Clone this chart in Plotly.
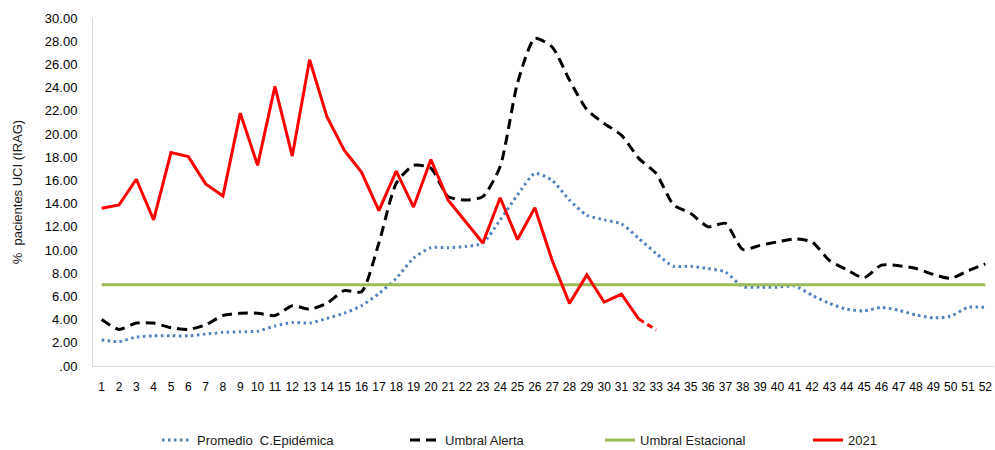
import plotly.graph_objects as go

weeks = list(range(1, 53))

promedio = [2.25, 2.1, 2.5, 2.6, 2.6, 2.6, 2.75, 2.9, 2.95, 3.0,
            3.45, 3.75, 3.7, 4.1, 4.55, 5.2, 6.25, 7.55, 9.3, 10.2,
            10.2, 10.3, 10.6, 12.6, 14.75, 16.6, 16.0, 14.3, 13.0, 12.6,
            12.25, 11.0, 9.7, 8.6, 8.6, 8.4, 8.1, 6.85, 6.8, 6.8,
            6.9, 6.1, 5.4, 4.9, 4.75, 5.05, 4.8, 4.4, 4.15, 4.3,
            5.05, 5.05]

alerta = [4.0, 3.15, 3.7, 3.7, 3.3, 3.15, 3.55, 4.35, 4.55, 4.55,
          4.35, 5.2, 4.9, 5.4, 6.5, 6.4, 10.6, 15.75, 17.3, 17.05,
          14.6, 14.3, 14.6, 17.2, 24.4, 28.25, 27.5, 24.65, 22.1, 20.9,
          19.9, 17.9, 16.6, 13.9, 13.15, 12.0, 12.3, 10.05, 10.4, 10.7,
          10.95, 10.7, 9.1, 8.3, 7.6, 8.7, 8.65, 8.4, 7.9, 7.55,
          8.2, 8.8]

estacional = [7.0] * 52

weeks_2021 = list(range(1, 34))
y2021 = [13.6, 13.88, 16.1, 12.6, 18.4, 18.05, 15.7, 14.65, 21.8, 17.3,
         24.1, 18.1, 26.4, 21.5, 18.6, 16.7, 13.4, 16.8, 13.7, 17.8,
         14.3, 12.4, 10.6, 14.5, 10.9, 13.65, 9.1, 5.4, 7.85, 5.5,
         6.2, 4.05, 3.1]

y_ticks = [0, 2, 4, 6, 8, 10, 12, 14, 16, 18, 20, 22, 24, 26, 28, 30]
y_labels = [".00"] + [f"{v:.2f}" for v in y_ticks[1:]]

FONT = "Liberation Sans"
TXT = "#1a1a1a"

fig = go.Figure()
fig.add_trace(go.Scatter(
    x=weeks, y=promedio, mode="lines", name="Promedio  C.Epidémica",
    line={"color": "#4F81BD", "width": 3, "dash": "2.5px,3.5px", "shape": "spline", "smoothing": 0.6},
    legend="legend",
))
fig.add_trace(go.Scatter(
    x=weeks, y=alerta, mode="lines", name="Umbral Alerta",
    line={"color": "#000000", "width": 3, "dash": "10px,6px", "shape": "spline", "smoothing": 0.6},
    legend="legend2",
))
fig.add_trace(go.Scatter(
    x=weeks, y=estacional, mode="lines", name="Umbral Estacional",
    line={"color": "#9BBB59", "width": 3},
    legend="legend3",
))
fig.add_trace(go.Scatter(
    x=weeks_2021[:-1], y=y2021[:-1], mode="lines", name="2021",
    line={"color": "#FF0000", "width": 3},
    legend="legend4",
))
# last (provisional) week drawn dashed
fig.add_trace(go.Scatter(
    x=weeks_2021[-2:], y=y2021[-2:], mode="lines", showlegend=False,
    line={"color": "#FF0000", "width": 3, "dash": "6px,4px"},
))

# legends sit in container coords so they don't push the margins
leg = {"orientation": "h", "yref": "container", "yanchor": "middle", "y": 0.022,
       "xanchor": "left",
       "font": {"family": FONT, "size": 13, "color": TXT},
       "bgcolor": "rgba(0,0,0,0)", "itemwidth": 30}

fig.update_layout(
    width=995, height=450,
    margin={"l": 93, "r": 1, "t": 18, "b": 84},
    paper_bgcolor="white", plot_bgcolor="white",
    font={"family": FONT, "size": 12, "color": TXT},
    legend={**leg, "x": 0.0710},
    legend2={**leg, "x": 0.3463},
    legend3={**leg, "x": 0.5627},
    legend4={**leg, "x": 0.7936},
    xaxis={
        "range": [0.5, 52.5], "tickvals": weeks, "showgrid": False,
        "showline": True, "linecolor": "#D9D9D9", "linewidth": 1,
        "ticks": "", "ticklabelstandoff": 10, "automargin": False,
        "tickfont": {"family": FONT, "size": 12, "color": "#000000"},
        "zeroline": False,
    },
    yaxis={
        "range": [0, 30], "tickvals": y_ticks, "ticktext": y_labels,
        "showgrid": False, "showline": True, "linecolor": "#D9D9D9",
        "linewidth": 1, "ticks": "", "ticklabelstandoff": 12,
        "automargin": False,
        "tickfont": {"family": FONT, "size": 13, "color": "#000000"},
        "zeroline": False,
    },
)
fig.add_annotation(
    text="%  pacientes UCI (IRAG)", textangle=-90, showarrow=False,
    xref="paper", yref="paper", x=-0.084, y=0.5,
    xanchor="center", yanchor="middle",
    font={"family": FONT, "size": 13, "color": TXT},
)

# drop the browser's default body margin so the figure fills the window
fig.write_html("out.html", config={"displayModeBar": False},
               post_script="document.body.style.margin = '0';")
